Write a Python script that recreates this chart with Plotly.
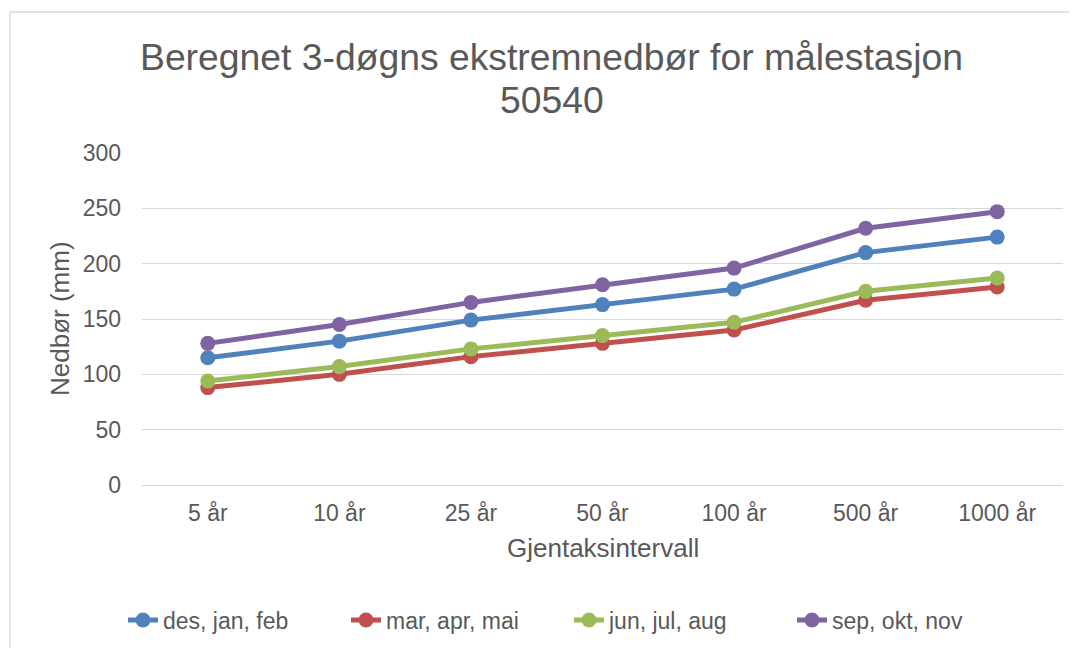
import plotly.graph_objects as go

categories = ["5 år", "10 år", "25 år", "50 år", "100 år", "500 år", "1000 år"]
des_jan_feb = [115, 130, 149, 163, 177, 210, 224]
mar_apr_mai = [88, 100, 116, 128, 140, 167, 179]
jun_jul_aug = [94, 107, 123, 135, 147, 175, 187]
sep_okt_nov = [128, 145, 165, 181, 196, 232, 247]

series = [
    ("des, jan, feb", des_jan_feb, "#4F81BD"),
    ("mar, apr, mai", mar_apr_mai, "#C0504D"),
    ("jun, jul, aug", jun_jul_aug, "#9BBB59"),
    ("sep, okt, nov", sep_okt_nov, "#8064A2"),
]

fig = go.Figure()
for name, vals, col in series:
    fig.add_trace(go.Scatter(
        x=categories, y=vals, name=name, mode="lines+markers",
        line=dict(color=col, width=5),
        marker=dict(color=col, size=15),
    ))

W, H = 1077, 648
OFF = 8  # page offset of the figure inside the browser window
L, R, T, B = 142 - OFF, W - (1063 - OFF), 153 - OFF, H - (485 - OFF)
pw, ph = W - L - R, H - T - B


def px(xr):
    return (xr - OFF - L) / pw


def py(yr):
    return (H - B - (yr - OFF)) / ph


font = "Liberation Sans, Arial, sans-serif"
grey = "#595959"

fig.update_layout(
    width=W, height=H,
    margin=dict(l=L, r=R, t=T, b=B, autoexpand=False),
    paper_bgcolor="white", plot_bgcolor="white",
    font=dict(family=font, color=grey, size=23),
    xaxis=dict(
        type="category", showgrid=False, showline=False, zeroline=False,
        ticks="", tickfont=dict(size=23, color=grey), ticklabelstandoff=12,
        range=[-0.5, 6.5],
    ),
    yaxis=dict(
        range=[0, 300], dtick=50, showgrid=True, gridcolor="#D9D9D9", gridwidth=1.3,
        zeroline=True, zerolinecolor="#D9D9D9", zerolinewidth=1.3,
        showline=False, ticks="", ticklabelstandoff=20,
        tickfont=dict(size=23, color=grey),
    ),
    legend=dict(
        orientation="h", x=px(569), xanchor="center", y=py(620), yanchor="middle",
        font=dict(size=23, color=grey), traceorder="normal",
        entrywidth=178, entrywidthmode="pixels",
        bgcolor="rgba(0,0,0,0)",
    ),
    showlegend=True,
)

annos = [
    dict(text="Beregnet 3-døgns ekstremnedbør for målestasjon", x=px(551.5), y=py(57), size=37.3, angle=0),
    dict(text="50540", x=px(551.5), y=py(100), size=37.3, angle=0),
    dict(text="Gjentaksintervall", x=px(602.5), y=py(548), size=26, angle=0),
    dict(text="Nedbør (mm)", x=px(60), y=py(319), size=26, angle=-90),
]
for a in annos:
    fig.add_annotation(
        text=a["text"], x=a["x"], y=a["y"], xref="paper", yref="paper",
        xanchor="center", yanchor="middle", showarrow=False, textangle=a["angle"],
        font=dict(size=a["size"], color=grey, family=font),
    )

# chart-area border
fig.add_shape(
    type="rect", xref="paper", yref="paper",
    x0=px(10), x1=px(W + 20), y0=py(H + 20), y1=py(12),
    line=dict(color="#D9D9D9", width=1.3), fillcolor="rgba(0,0,0,0)", layer="below",
)

fig.write_html("out.html")
